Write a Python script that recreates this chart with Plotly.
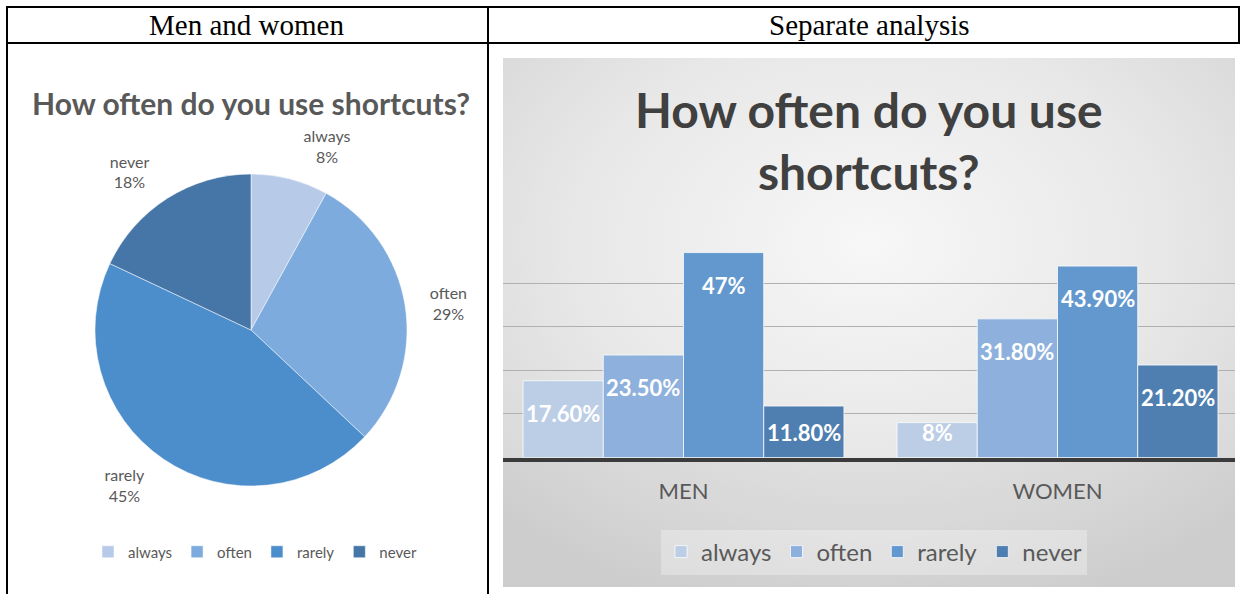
import base64
import plotly.graph_objects as go

# ---------------- data ----------------
answers = ["always", "often", "rarely", "never"]
overall_pct = [8, 29, 45, 18]
groups = ["MEN", "WOMEN"]
men_pct = [17.6, 23.5, 47, 11.8]
women_pct = [8, 31.8, 43.9, 21.2]
header_left = "Men and women"
header_right = "Separate analysis"
title_text = "How often do you use shortcuts?"

# ---------------- style ----------------
W, H = 1244, 594
FONT = "Lato, 'Open Sans', sans-serif"
SERIF = "'Liberation Serif', 'Times New Roman', serif"
pie_colors = ["#b7cbe8", "#7eabdd", "#4c8dcc", "#4676a8"]
bar_colors = ["#bccde6", "#8db1dc", "#6398ce", "#4f7fb0"]
GREY = "#595959"


def px(x):
    return x / W


def py(y):
    return 1 - y / H


def fmt(v):
    return f"{int(v)}%" if float(v).is_integer() else f"{v:.2f}%"


fig = go.Figure()

# ---------- left: pie ----------
PCX, PCY, PR, LR = 251, 330, 156, 171
# transparent twin pie that only carries the outside labels (a bit further out)
fig.add_trace(go.Pie(
    labels=answers, values=overall_pct, sort=False, direction="clockwise", rotation=0,
    marker=dict(colors=["rgba(0,0,0,0)"] * len(answers), line=dict(width=0)),
    texttemplate="%{label}<br>%{value}%", textposition="outside",
    textfont=dict(family=FONT, size=16, color=GREY),
    domain=dict(x=[px(PCX - LR), px(PCX + LR)], y=[py(PCY + LR), py(PCY - LR)]),
    showlegend=False, hoverinfo="skip", legend="legend",
))
fig.add_trace(go.Pie(
    labels=answers, values=overall_pct, sort=False, direction="clockwise", rotation=0,
    marker=dict(colors=pie_colors, line=dict(color="rgba(255,255,255,0.5)", width=1)),
    textinfo="none",
    domain=dict(x=[px(PCX - PR), px(PCX + PR)], y=[py(PCY + PR), py(PCY - PR)]),
    legend="legend", hoverinfo="label+percent",
))

# ---------- right: grouped bars ----------
BARGAP = 0.142
for i, name in enumerate(answers):
    fig.add_trace(go.Bar(
        name=name, x=groups, y=[men_pct[i], women_pct[i]],
        marker=dict(color=bar_colors[i], line=dict(color="rgba(255,255,255,0.75)", width=1)),
        legend="legend2", xaxis="x", yaxis="y",
    ))

# value labels placed inside the bars near their tops
bw = (1 - BARGAP) / len(answers)
annotations = []
for i in range(len(answers)):
    for j, vals in enumerate([men_pct, women_pct]):
        v = vals[i]
        annotations.append(dict(
            x=j + (i - (len(answers) - 1) / 2) * bw, y=max(v, 13.1), xref="x", yref="y",
            text=f"<b>{fmt(v)}</b>", showarrow=False, xanchor="center", yanchor="top", yshift=-17,
            font=dict(family=FONT, size=22, color="white"),
        ))


# headers and titles
def paper_text(x, y, text, font):
    return dict(x=px(x), y=py(y), xref="paper", yref="paper", text=text, showarrow=False,
                xanchor="center", yanchor="middle", font=font)


annotations += [
    paper_text(247, 25, header_left, dict(family=SERIF, size=29, color="black")),
    paper_text(869, 25, header_right, dict(family=SERIF, size=29, color="black")),
    paper_text(251, 103, f"<b>{title_text}</b>", dict(family=FONT, size=30, color=GREY)),
    paper_text(869, 141, "<b>How often do you use<br>shortcuts?</b>",
               dict(family=FONT, size=48, color="#404040")),
]

# gradient background of the right chart (svg image)
PW, PH = 732, 529
svg = (
    f"<svg xmlns='http://www.w3.org/2000/svg' width='{PW}' height='{PH}' viewBox='0 0 {PW} {PH}' "
    "preserveAspectRatio='none'><defs><radialGradient id='g' cx='50%' cy='35%' r='72%'>"
    "<stop offset='0' stop-color='#f7f7f7'/><stop offset='0.55' stop-color='#e8e8e8'/>"
    "<stop offset='1' stop-color='#d4d4d4'/></radialGradient></defs>"
    f"<rect width='{PW}' height='{PH}' fill='url(#g)'/></svg>"
)
src = "data:image/svg+xml;base64," + base64.b64encode(svg.encode()).decode()

line = dict(color="black", width=2)
shapes = [
    dict(type="line", xref="paper", yref="paper", x0=px(6), x1=px(1240), y0=py(7), y1=py(7), line=line),
    dict(type="line", xref="paper", yref="paper", x0=px(6), x1=px(1240), y0=py(43), y1=py(43), line=line),
    dict(type="line", xref="paper", yref="paper", x0=px(7), x1=px(7), y0=py(6), y1=py(594), line=line),
    dict(type="line", xref="paper", yref="paper", x0=px(488), x1=px(488), y0=py(6), y1=py(594), line=line),
    dict(type="line", xref="paper", yref="paper", x0=px(1239), x1=px(1239), y0=py(6), y1=py(44), line=line),
    # slightly darker floor under the baseline
    dict(type="rect", xref="paper", yref="paper", x0=px(503), x1=px(1235), y0=py(587), y1=py(461),
         fillcolor="rgba(0,0,0,0.03)", line=dict(width=0), layer="below"),
]

fig.update_layout(
    width=W, height=H, margin=dict(l=0, r=0, t=0, b=0),
    paper_bgcolor="white", plot_bgcolor="rgba(0,0,0,0)",
    barmode="group", bargap=BARGAP, bargroupgap=0,
    showlegend=True,
    legend=dict(orientation="h", x=px(255), y=py(552), xanchor="center", yanchor="middle",
                font=dict(family=FONT, size=15, color=GREY), bgcolor="rgba(0,0,0,0)",
                itemwidth=30, itemclick=False),
    legend2=dict(orientation="h", x=px(874), y=py(552), xanchor="center", yanchor="middle",
                 font=dict(family=FONT, size=24, color=GREY), bgcolor="rgba(255,255,255,0.3)",
                 itemclick=False),
    xaxis=dict(domain=[px(503), px(1235)], type="category", range=[-0.4826, 1.4746],
               showline=True, linecolor="#3b3b3b", linewidth=4, showgrid=False, zeroline=False,
               ticks="outside", ticklen=11, tickcolor="rgba(0,0,0,0)",
               tickfont=dict(family=FONT, size=22, color=GREY), anchor="y", fixedrange=True),
    yaxis=dict(domain=[py(457.5), py(239.5)], range=[0, 50], dtick=10, showgrid=True,
               gridcolor="#b0b0b0", gridwidth=1, showticklabels=False, zeroline=False,
               anchor="x", fixedrange=True),
    images=[dict(source=src, xref="paper", yref="paper", x=px(503), y=py(58),
                 sizex=px(1235) - px(503), sizey=py(58) - py(587), sizing="stretch",
                 xanchor="left", yanchor="top", layer="below")],
    shapes=shapes, annotations=annotations,
)

fig.write_html("out.html", config={"displayModeBar": False},
               post_script="document.body.style.margin='0';document.body.style.overflow='hidden';")
